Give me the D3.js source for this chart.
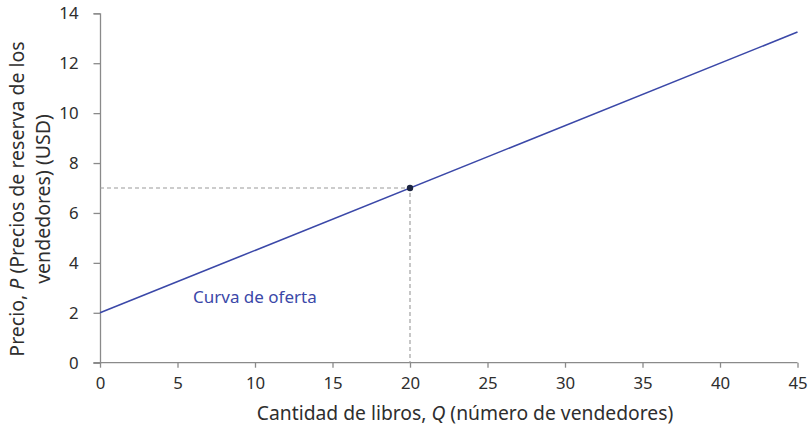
<!DOCTYPE html>
<html><head><meta charset="utf-8">
<script src="https://cdn.jsdelivr.net/npm/d3@7"></script>
<style>body{margin:0;background:#fff;} text{font-family:"Noto Sans",sans-serif;}</style>
</head><body>
<svg id="c" width="810" height="442"></svg>
<script>
const xTicks = [0,5,10,15,20,25,30,35,40,45];
const yTicks = [0,2,4,6,8,10,12,14];
const supplyQ = [0, 45];
const supplyP = [2, 13.25];
const pointQ = [20];
const pointP = [7];
const labelText = "Curva de oferta";

const svg = d3.select("#c");
const x = d3.scaleLinear().domain([0,45]).range([100,797.5]);
const y = d3.scaleLinear().domain([0,14]).range([362.7,13.3]);
const axisColor = "#8a8a8a", textColor = "#2e2e2e";

const gx = svg.append("g").attr("transform",`translate(0,${y(0)})`)
  .call(d3.axisBottom(x).tickValues(xTicks).tickSize(5).tickPadding(9).tickFormat(d3.format("d")));
const gy = svg.append("g").attr("transform",`translate(${x(0)},0)`)
  .call(d3.axisLeft(y).tickValues(yTicks).tickSize(6.5).tickPadding(15).tickFormat(d3.format("d")));
[gx,gy].forEach(g=>{
  g.select(".domain").attr("stroke",axisColor).attr("stroke-width",1.3);
  g.selectAll(".tick line").attr("stroke",axisColor).attr("stroke-width",1.3);
  g.selectAll(".tick text").attr("fill",textColor).style("font-size","16.8px").style("font-family","Noto Sans, sans-serif");
});
gx.select(".domain").attr("d",`M${x(0)-6.5},0H${x(45)}`);

// dashed guides
pointQ.forEach((q,i)=>{
  const p = pointP[i];
  svg.append("path").attr("d",`M${x(0)},${y(p)}H${x(q)}V${y(0)}`)
    .attr("fill","none").attr("stroke","#999").attr("stroke-width",1.1).attr("stroke-dasharray","4,3");
});

const data = supplyQ.map((q,i)=>({q, p:supplyP[i]}));
svg.append("path").datum(data)
  .attr("d", d3.line().x(d=>x(d.q)).y(d=>y(d.p)))
  .attr("fill","none").attr("stroke","#3b48a8").attr("stroke-width",1.6);

svg.selectAll("circle.pt").data(pointQ.map((q,i)=>({q,p:pointP[i]}))).enter()
  .append("circle").attr("class","pt").attr("cx",d=>x(d.q)).attr("cy",d=>y(d.p)).attr("r",3.2).attr("fill","#1c2440");

svg.append("text").attr("x",193).attr("y",303).text(labelText)
  .attr("fill","#3b48a8").style("font-size","17px");

svg.append("text").attr("x",465).attr("y",420).attr("text-anchor","middle")
  .attr("fill",textColor).style("font-size","19.3px")
  .html('Cantidad de libros, <tspan font-style="italic">Q</tspan> (número de vendedores)');

const yt = svg.append("text").attr("transform","translate(0,199) rotate(-90)")
  .attr("text-anchor","middle").attr("fill",textColor).style("font-size","19.5px");
yt.append("tspan").attr("x",0).attr("y",24).html('Precio, <tspan font-style="italic">P</tspan> (Precios de reserva de los');
yt.append("tspan").attr("x",0).attr("y",50).text('vendedores) (USD)');
</script>
</body></html>
